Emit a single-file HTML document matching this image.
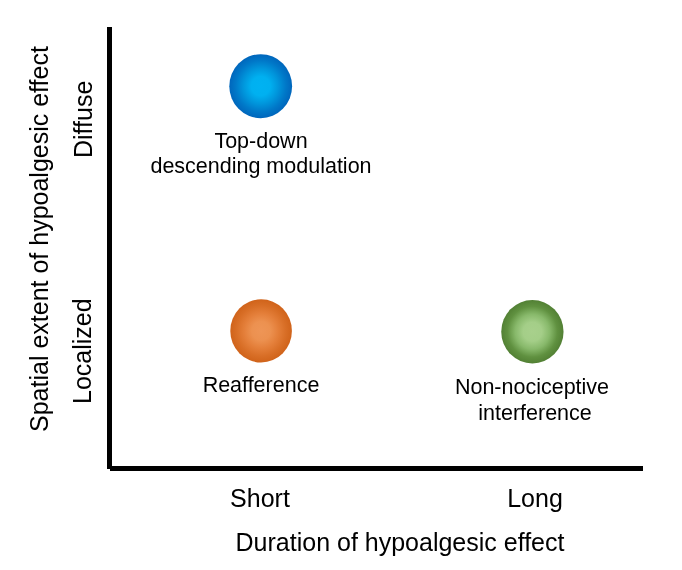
<!DOCTYPE html>
<html><head><meta charset="utf-8">
<style>
html,body{margin:0;padding:0;background:#fff;}
body{width:682px;height:570px;position:relative;overflow:hidden;font-family:"Liberation Sans",sans-serif;color:#000;}
.t{position:absolute;white-space:nowrap;text-align:center;will-change:transform;}
.lab{font-size:21.5px;line-height:25.5px;}
.ax{font-size:25px;line-height:30px;}
.rot{position:absolute;white-space:nowrap;transform-origin:0 0;transform:rotate(-90deg);will-change:transform;}
</style></head><body>
<svg width="682" height="570" style="position:absolute;left:0;top:0">
<defs>
<radialGradient id="gb" cx="50%" cy="50%" r="50%">
<stop offset="0" stop-color="#00b2f2"/>
<stop offset="0.3" stop-color="#00b0f0"/>
<stop offset="0.55" stop-color="#0096dc"/>
<stop offset="0.8" stop-color="#0078c8"/>
<stop offset="1" stop-color="#0066bc"/>
</radialGradient>
<radialGradient id="go" cx="50%" cy="50%" r="50%">
<stop offset="0" stop-color="#ee9556"/>
<stop offset="0.3" stop-color="#ec9150"/>
<stop offset="0.55" stop-color="#e47f3a"/>
<stop offset="0.8" stop-color="#d86e26"/>
<stop offset="1" stop-color="#d0631a"/>
</radialGradient>
<radialGradient id="gg" cx="50%" cy="50%" r="50%">
<stop offset="0" stop-color="#a8d08c"/>
<stop offset="0.3" stop-color="#a4ce88"/>
<stop offset="0.55" stop-color="#88b96b"/>
<stop offset="0.8" stop-color="#609140"/>
<stop offset="1" stop-color="#528034"/>
</radialGradient>
</defs>
<rect x="107" y="27" width="5" height="442" fill="#000"/>
<rect x="110" y="466" width="533" height="5" fill="#000"/>
<ellipse cx="260.7" cy="86.15" rx="31.4" ry="32" fill="url(#gb)"/>
<ellipse cx="261.1" cy="330.9" rx="30.8" ry="31.6" fill="url(#go)"/>
<ellipse cx="532.4" cy="331.7" rx="31.15" ry="31.7" fill="url(#gg)"/>
</svg>
<div class="t lab" style="left:60.6px;width:400px;top:129px;">Top-down</div>
<div class="t lab" style="left:60.6px;width:400px;top:154px;">descending modulation</div>
<div class="t lab" style="left:61px;width:400px;top:373.3px;">Reafference</div>
<div class="t lab" style="left:332.2px;width:400px;top:374.5px;">Non-nociceptive</div>
<div class="t lab" style="left:335px;width:400px;top:400.5px;">interference</div>
<div class="t ax" style="left:160px;width:200px;top:483px;">Short</div>
<div class="t ax" style="left:435px;width:200px;top:483px;">Long</div>
<div class="t ax" style="left:200px;width:400px;top:527px;">Duration of hypoalgesic effect</div>
<div class="rot ax" style="left:24px;top:432px;">Spatial extent of hypoalgesic effect</div>
<div class="rot ax" style="left:68px;top:158px;">Diffuse</div>
<div class="rot ax" style="left:67px;top:403.5px;">Localized</div>
</body></html>
